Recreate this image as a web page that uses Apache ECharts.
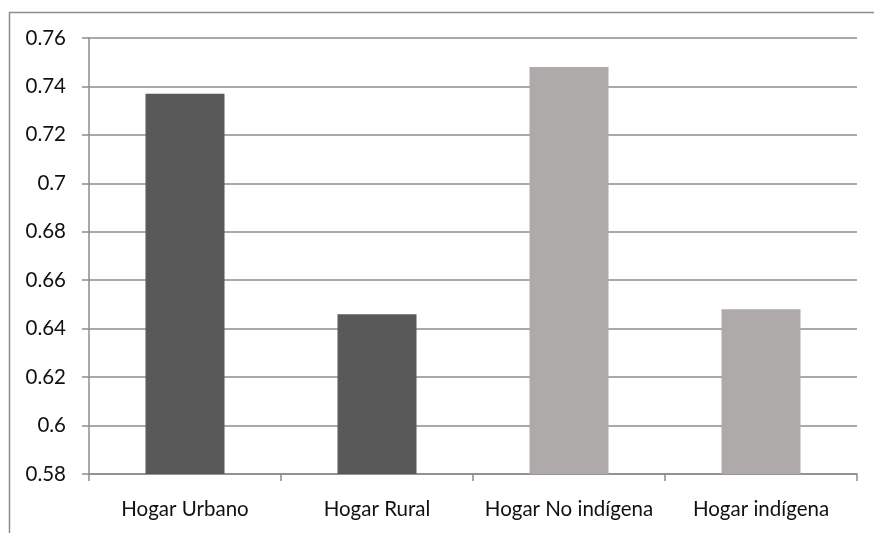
<!DOCTYPE html>
<html>
<head>
<meta charset="utf-8">
<script src="https://cdn.jsdelivr.net/npm/echarts@6/dist/echarts.min.js"></script>
<style>
  html, body { margin: 0; padding: 0; background: #fff; }
  #chart { width: 874px; height: 533px; }
</style>
</head>
<body>
<div id="chart"></div>
<script>
// Household categories and their index values
const categories = ['Hogar Urbano', 'Hogar Rural', 'Hogar No indígena', 'Hogar indígena'];
const values = [0.737, 0.646, 0.748, 0.648];
const barColors = ['#595959', '#595959', '#AEAAAA', '#AEAAAA'];

// Value axis range
const yMin = 0.58;
const yMax = 0.76;
const yStep = 0.02;

const lineColor = '#8C8C8C';
const fontFamily = 'Lato, "Open Sans", sans-serif';

const chart = echarts.init(document.getElementById('chart'), null, { renderer: 'canvas' });

chart.setOption({
  animation: false,
  backgroundColor: '#ffffff',
  graphic: [{
    type: 'rect',
    shape: { x: 9.5, y: 12.5, width: 900, height: 600 },
    style: { fill: 'none', stroke: lineColor, lineWidth: 1.5 },
    silent: true
  }],
  grid: { left: 89, top: 38, right: 17, bottom: 59 },
  xAxis: {
    type: 'category',
    data: categories,
    axisLine: { lineStyle: { color: lineColor, width: 1.5 } },
    axisTick: { show: true, length: 7, lineStyle: { color: lineColor, width: 1.5 } },
    axisLabel: { color: '#111', fontSize: 20.5, fontFamily: fontFamily, margin: 25, interval: 0, hideOverlap: false }
  },
  yAxis: {
    type: 'value',
    min: yMin,
    max: yMax,
    interval: yStep,
    axisLine: { show: true, lineStyle: { color: lineColor, width: 1.5 } },
    axisTick: { show: true, length: 7, lineStyle: { color: lineColor, width: 1.5 } },
    splitLine: { show: true, lineStyle: { color: lineColor, width: 1.5 } },
    axisLabel: {
      color: '#111', fontSize: 20.5, fontFamily: fontFamily, margin: 23,
      formatter: v => String(+v.toFixed(2))
    }
  },
  series: [{
    type: 'bar',
    barWidth: 79,
    data: values.map((v, i) => ({ value: v, itemStyle: { color: barColors[i] } }))
  }]
});
</script>
</body>
</html>
